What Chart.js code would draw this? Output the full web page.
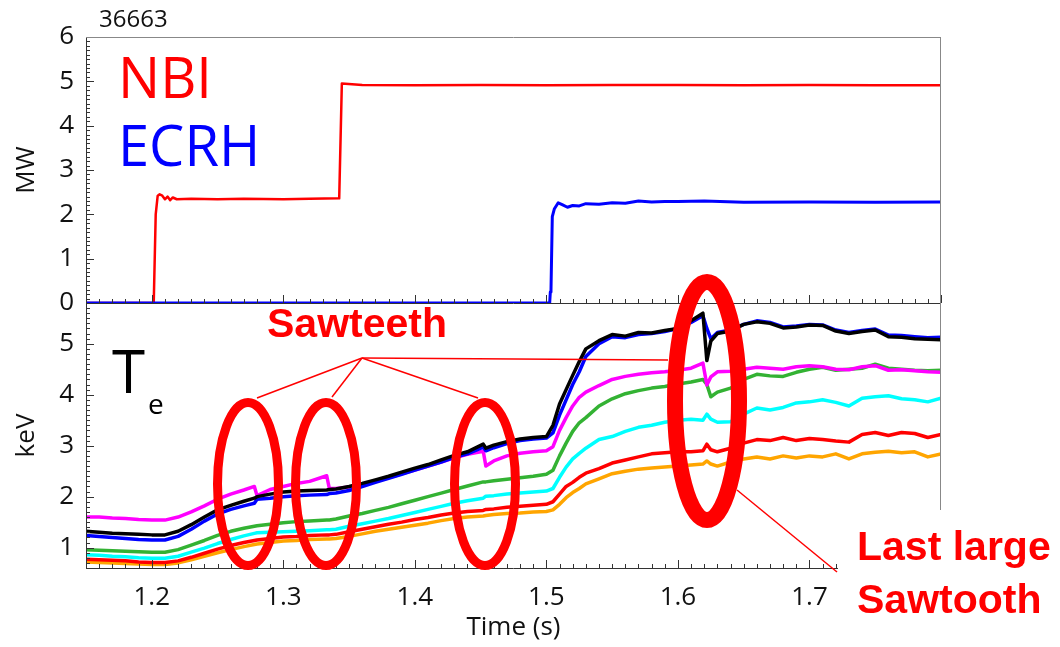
<!DOCTYPE html>
<html>
<head>
<meta charset="utf-8">
<script src="https://cdn.jsdelivr.net/npm/chart.js@4"></script>
<style>
  body { margin: 0; background: #fff; }
  canvas { position: absolute; left: 0; top: 0; }
</style>
</head>
<body>
<canvas id="top" width="1060" height="647"></canvas>
<canvas id="bottom" width="1060" height="647"></canvas>
<script>
// ---- heating power (top panel) ----
const timeNbi = [1.15, 1.2015, 1.203, 1.2045, 1.206, 1.208, 1.210, 1.212, 1.214, 1.216, 1.219, 1.23, 1.25, 1.27, 1.30, 1.32, 1.3425, 1.3445, 1.36, 1.40, 1.45, 1.50, 1.55, 1.60, 1.65, 1.70, 1.75, 1.80];
const nbiMW   = [0, 0, 2.0, 2.42, 2.45, 2.42, 2.34, 2.40, 2.32, 2.38, 2.34, 2.35, 2.34, 2.35, 2.34, 2.35, 2.36, 4.95, 4.92, 4.91, 4.92, 4.91, 4.92, 4.92, 4.91, 4.92, 4.91, 4.91];

const timeEcrh = [1.15, 1.5025, 1.503, 1.5035, 1.5045, 1.506, 1.509, 1.512, 1.516, 1.52, 1.525, 1.53, 1.54, 1.55, 1.56, 1.57, 1.58, 1.59, 1.60, 1.62, 1.65, 1.70, 1.75, 1.80];
const ecrhMW   = [0, 0, 0.25, 0.3, 1.95, 2.12, 2.26, 2.22, 2.16, 2.20, 2.19, 2.24, 2.23, 2.26, 2.25, 2.30, 2.28, 2.29, 2.29, 2.30, 2.27, 2.28, 2.27, 2.28];

// ---- electron temperature channels (bottom panel) ----
const timeTe = [
  1.15, 1.16, 1.17, 1.18, 1.19, 1.20, 1.21, 1.22, 1.23, 1.24,
  1.25, 1.26, 1.27, 1.278, 1.280, 1.29, 1.30, 1.31, 1.32, 1.333,
  1.335, 1.34, 1.35, 1.36, 1.37, 1.38, 1.39, 1.40, 1.41, 1.42,
  1.43, 1.44, 1.452, 1.454, 1.46, 1.47, 1.48, 1.49, 1.50, 1.505,
  1.51, 1.515, 1.52, 1.525, 1.53, 1.54, 1.55, 1.56, 1.57, 1.58,
  1.59, 1.60, 1.61, 1.619, 1.622, 1.625, 1.63, 1.64, 1.65, 1.66,
  1.67, 1.68, 1.69, 1.70, 1.71, 1.72, 1.73, 1.74, 1.75, 1.76,
  1.77, 1.78, 1.79, 1.80
];
const teBlack = [
  1.32, 1.30, 1.28, 1.27, 1.26, 1.25, 1.25, 1.32, 1.45, 1.60,
  1.74, 1.83, 1.91, 1.97, 2.00, 2.05, 2.09, 2.11, 2.12, 2.13,
  2.14, 2.15, 2.20, 2.26, 2.33, 2.40, 2.48, 2.56, 2.63, 2.72,
  2.81, 2.88, 3.03, 2.95, 3.01, 3.08, 3.13, 3.16, 3.18, 3.40,
  3.82, 4.10, 4.38, 4.65, 4.90, 5.06, 5.18, 5.15, 5.22, 5.21,
  5.26, 5.30, 5.45, 5.60, 4.67, 5.05, 5.20, 5.25, 5.38, 5.43,
  5.40, 5.31, 5.33, 5.37, 5.36, 5.25, 5.20, 5.24, 5.27, 5.14,
  5.13, 5.10, 5.09, 5.08
];
const teBlue = [
  1.24, 1.22, 1.20, 1.18, 1.16, 1.15, 1.15, 1.22, 1.36, 1.52,
  1.66, 1.75, 1.82, 1.87, 1.95, 1.97, 2.00, 2.02, 2.03, 2.04,
  2.06, 2.07, 2.12, 2.20, 2.28, 2.36, 2.44, 2.52, 2.60, 2.68,
  2.77, 2.84, 2.97, 2.90, 2.96, 3.04, 3.10, 3.13, 3.15, 3.25,
  3.60, 3.90, 4.20, 4.45, 4.75, 5.00, 5.14, 5.12, 5.18, 5.20,
  5.24, 5.30, 5.42, 5.55, 5.30, 5.10, 5.22, 5.27, 5.38, 5.45,
  5.42, 5.33, 5.35, 5.38, 5.37, 5.27, 5.22, 5.26, 5.29, 5.17,
  5.16, 5.14, 5.12, 5.13
];
const teMagenta = [
  1.60, 1.60, 1.58, 1.57, 1.55, 1.54, 1.54, 1.60, 1.70, 1.82,
  1.95, 2.05, 2.13, 2.20, 2.02, 2.14, 2.20, 2.26, 2.30, 2.41,
  2.16, 2.16, 2.19, 2.24, 2.30, 2.37, 2.45, 2.52, 2.60, 2.68,
  2.76, 2.83, 2.89, 2.60, 2.70, 2.80, 2.85, 2.88, 2.90, 2.98,
  3.30, 3.55, 3.78, 3.95, 4.05, 4.18, 4.30, 4.36, 4.40, 4.43,
  4.45, 4.48, 4.52, 4.62, 4.19, 4.35, 4.45, 4.46, 4.50, 4.54,
  4.52, 4.50, 4.55, 4.57, 4.55, 4.50, 4.49, 4.55, 4.57, 4.48,
  4.49, 4.47, 4.45, 4.44
];
const teGreen = [
  0.96, 0.95, 0.94, 0.93, 0.92, 0.91, 0.91, 0.96, 1.05, 1.14,
  1.24, 1.32, 1.38, 1.42, 1.43, 1.46, 1.49, 1.51, 1.52, 1.54,
  1.54, 1.56, 1.62, 1.67, 1.73, 1.79, 1.86, 1.93, 2.00, 2.07,
  2.14, 2.21, 2.29, 2.29, 2.31, 2.34, 2.37, 2.40, 2.44, 2.52,
  2.80, 3.05, 3.28, 3.45, 3.55, 3.78, 3.92, 4.02, 4.08, 4.13,
  4.16, 4.21, 4.25, 4.30, 4.20, 3.96, 4.05, 4.13, 4.30, 4.40,
  4.37, 4.36, 4.44, 4.50, 4.54, 4.48, 4.50, 4.52, 4.60, 4.52,
  4.50, 4.48, 4.47, 4.48
];
const teCyan = [
  0.86, 0.85, 0.83, 0.82, 0.80, 0.79, 0.79, 0.83, 0.91, 0.99,
  1.08, 1.16, 1.23, 1.28, 1.29, 1.30, 1.31, 1.32, 1.33, 1.35,
  1.35, 1.36, 1.42, 1.47, 1.52, 1.57, 1.63, 1.69, 1.75, 1.81,
  1.87, 1.92, 1.97, 2.01, 2.02, 2.05, 2.07, 2.09, 2.11, 2.16,
  2.38, 2.58, 2.74, 2.85, 2.95, 3.12, 3.18, 3.28, 3.36, 3.40,
  3.46, 3.50, 3.52, 3.50, 3.62, 3.52, 3.46, 3.47, 3.62, 3.74,
  3.70, 3.75, 3.84, 3.86, 3.90, 3.85, 3.78, 3.93, 3.96, 3.98,
  3.92, 3.90, 3.86, 3.93
];
const teRed = [
  0.77, 0.76, 0.75, 0.74, 0.72, 0.71, 0.71, 0.74, 0.81, 0.89,
  0.97, 1.04, 1.10, 1.14, 1.15, 1.18, 1.21, 1.22, 1.24, 1.25,
  1.25, 1.26, 1.31, 1.36, 1.41, 1.46, 1.50, 1.55, 1.59, 1.64,
  1.68, 1.71, 1.73, 1.75, 1.76, 1.79, 1.81, 1.83, 1.85, 1.90,
  2.05, 2.20, 2.28, 2.38, 2.46, 2.55, 2.66, 2.72, 2.78, 2.84,
  2.86, 2.88, 2.88, 2.90, 3.03, 2.92, 2.88, 2.95, 3.05, 3.12,
  3.10, 3.16, 3.10, 3.14, 3.12, 3.09, 3.07, 3.22, 3.26, 3.20,
  3.26, 3.24, 3.16, 3.22
];
const teOrange = [
  0.72, 0.71, 0.70, 0.69, 0.68, 0.67, 0.67, 0.70, 0.76, 0.83,
  0.90, 0.96, 1.02, 1.06, 1.07, 1.10, 1.13, 1.14, 1.16, 1.17,
  1.17, 1.18, 1.22, 1.27, 1.32, 1.36, 1.40, 1.44, 1.48, 1.53,
  1.57, 1.60, 1.62, 1.63, 1.65, 1.67, 1.68, 1.70, 1.71, 1.74,
  1.85, 1.98, 2.08, 2.16, 2.25, 2.35, 2.45, 2.50, 2.54, 2.56,
  2.58, 2.60, 2.62, 2.64, 2.70, 2.64, 2.60, 2.68, 2.74, 2.78,
  2.74, 2.80, 2.76, 2.80, 2.78, 2.84, 2.74, 2.84, 2.87, 2.89,
  2.86, 2.88, 2.78, 2.84
];

// tick labels
const timeTicks = [1.2, 1.3, 1.4, 1.5, 1.6, 1.7];
const mwTicks = [0, 1, 2, 3, 4, 5, 6];
const kevTicks = [1, 2, 3, 4, 5];

const FONT = '"Open Sans", "DejaVu Sans", sans-serif';
const toPoints = (ts, vs) => ts.map((t, i) => ({ x: t, y: vs[i] }));

function line(ctx, x1, y1, x2, y2) {
  ctx.beginPath(); ctx.moveTo(x1, y1); ctx.lineTo(x2, y2); ctx.stroke();
}

// frame and inward tick marks, IDL style
const frameTicks = {
  id: 'frameTicks',
  afterDatasetsDraw(chart) {
    const { ctx, chartArea: a, scales } = chart;
    const x = scales.x, y = scales.y;
    ctx.save();
    ctx.lineWidth = 1;
    ctx.strokeStyle = '#333';
    for (let i = 115; i <= 180; i++) {
      const px = Math.round(x.getPixelForValue(i / 100)) + 0.5;
      line(ctx, px, a.bottom, px, a.bottom - (i % 10 === 0 ? 8 : 4));
    }
    const lo = Math.ceil(y.min * 10 - 1e-6), hi = Math.floor(y.max * 10 + 1e-6);
    for (let i = lo; i <= hi; i++) {
      const py = Math.round(y.getPixelForValue(i / 10)) + 0.5;
      line(ctx, a.left, py, a.left + (i % 10 === 0 ? 8 : 4), py);
    }
    line(ctx, a.left + 0.5, a.top, a.left + 0.5, a.bottom);
    line(ctx, a.left, a.bottom + 0.5, a.right, a.bottom + 0.5);
    ctx.strokeStyle = '#888';
    line(ctx, a.right - 0.5, a.top, a.right - 0.5, a.bottom);
    if (chart.canvas.id === 'top') line(ctx, a.left, a.top + 0.5, a.right, a.top + 0.5);
    ctx.restore();
  }
};

// hand-drawn style annotations of the slide
const notes = {
  id: 'notes',
  afterDraw(chart) {
    const ctx = chart.ctx;
    ctx.save();
    ctx.fillStyle = '#fff';
    ctx.fillRect(838, 510, 222, 137);

    ctx.strokeStyle = '#ff0000';
    ctx.lineWidth = 1.5;
    line(ctx, 362, 358, 257, 398);
    line(ctx, 362, 358, 332, 397);
    line(ctx, 362, 358, 478, 398);
    line(ctx, 362, 358, 668, 360);
    line(ctx, 737, 490, 837, 572);

    ctx.lineWidth = 9;
    [[248, 484], [326, 484], [485, 484]].forEach(([cx, cy]) => {
      ctx.beginPath(); ctx.ellipse(cx, cy, 30.5, 81.5, 0, 0, Math.PI * 2); ctx.stroke();
    });
    ctx.lineWidth = 16;
    ctx.beginPath(); ctx.ellipse(707, 401, 32, 119, 0, 0, Math.PI * 2); ctx.stroke();

    ctx.fillStyle = '#ff0000';
    ctx.font = 'bold 41px "Liberation Sans", Arial, sans-serif';
    ctx.fillText('Sawteeth', 267, 337);
    ctx.fillText('Last large', 857, 560);
    ctx.fillText('Sawtooth', 857, 613);

    ctx.fillStyle = '#000';
    ctx.font = '60px ' + FONT;
    ctx.fillText('T', 112, 393);
    ctx.font = '28px ' + FONT;
    ctx.fillText('e', 148, 414);

    ctx.font = '56px ' + FONT;
    ctx.fillStyle = '#ff0000';
    ctx.fillText('NBI', 118, 98);
    ctx.fillStyle = '#0000ff';
    ctx.fillText('ECRH', 118, 166);

    ctx.fillStyle = '#111';
    ctx.font = '24px ' + FONT;
    ctx.fillText('36663', 99, 27);
    ctx.restore();
  }
};

function yAxis(min, max, ticks, title) {
  return {
    min: min, max: max,
    afterBuildTicks: s => { s.ticks = ticks.map(v => ({ value: v })); },
    afterFit: s => { s.width = 86; },
    grid: { display: false, drawTicks: false },
    border: { display: false },
    ticks: { color: '#111', padding: 12, font: { family: FONT, size: 26 }, callback: v => String(v) },
    title: { display: true, text: title, color: '#111', font: { family: FONT, size: 26 }, padding: { top: 11, bottom: 0 } }
  };
}

const baseOpts = {
  responsive: false,
  animation: false,
  events: [],
  plugins: { legend: { display: false }, tooltip: { enabled: false } },
  elements: { point: { radius: 0 }, line: { tension: 0, borderJoinStyle: 'round' } }
};

new Chart(document.getElementById('top'), {
  type: 'line',
  data: {
    datasets: [
      { data: toPoints(timeEcrh, ecrhMW), borderColor: '#0000ff', borderWidth: 3 },
      { data: toPoints(timeNbi, nbiMW), borderColor: '#ff0000', borderWidth: 2.5 }
    ]
  },
  options: Object.assign({}, baseOpts, {
    layout: { padding: { left: 0, top: 37, right: 119, bottom: 344 } },
    scales: {
      x: { type: 'linear', min: 1.15, max: 1.80, display: false },
      y: yAxis(0, 6, mwTicks, 'MW')
    }
  }),
  plugins: [frameTicks]
});

const teSeries = [
  [teBlack, '#000000'], [teBlue, '#0000ff'], [teMagenta, '#ff00ff'], [teGreen, '#33b233'],
  [teCyan, '#00ffff'], [teRed, '#ff0000'], [teOrange, '#ffa500']
];

new Chart(document.getElementById('bottom'), {
  type: 'line',
  data: {
    datasets: teSeries.map(([vals, col]) => ({ data: toPoints(timeTe, vals), borderColor: col, borderWidth: 3.5 }))
  },
  options: Object.assign({}, baseOpts, {
    layout: { padding: { left: 0, top: 303, right: 119, bottom: 0 } },
    scales: {
      x: {
        type: 'linear', min: 1.15, max: 1.80,
        afterBuildTicks: s => { s.ticks = timeTicks.map(v => ({ value: v })); },
        afterFit: s => { s.height = 79; },
        grid: { display: false, drawTicks: false },
        border: { display: false },
        ticks: { color: '#111', padding: 14, maxRotation: 0, font: { family: FONT, size: 26 }, callback: v => v.toFixed(1) },
        title: { display: true, text: 'Time (s)', color: '#111', font: { family: FONT, size: 26 }, padding: { top: 0, bottom: 4 } }
      },
      y: yAxis(0.6, 5.8, kevTicks, 'keV')
    }
  }),
  plugins: [frameTicks, notes]
});
</script>
</body>
</html>
